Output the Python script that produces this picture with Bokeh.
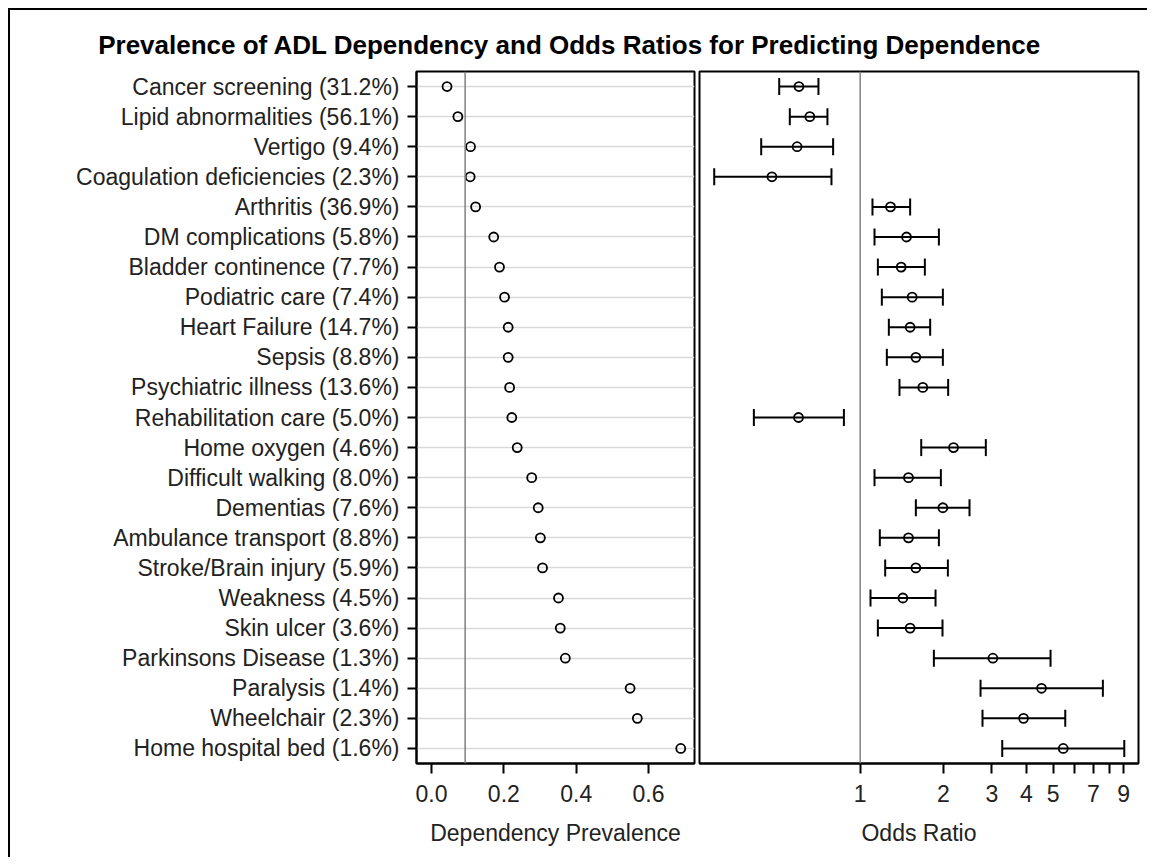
from bokeh.plotting import figure
from bokeh.models import (FactorRange, Range1d, FixedTicker, Span, Whisker, TeeHead,
                          ColumnDataSource, NumeralTickFormatter)
from bokeh.layouts import row, column
from bokeh.core.properties import value
from bokeh.embed import file_html
from bokeh.resources import INLINE

title_text = "Prevalence of ADL Dependency and Odds Ratios for Predicting Dependence"

categories = ["Cancer screening (31.2%)", "Lipid abnormalities (56.1%)", "Vertigo (9.4%)",
              "Coagulation deficiencies (2.3%)", "Arthritis (36.9%)", "DM complications (5.8%)",
              "Bladder continence (7.7%)", "Podiatric care (7.4%)", "Heart Failure (14.7%)",
              "Sepsis (8.8%)", "Psychiatric illness (13.6%)", "Rehabilitation care (5.0%)",
              "Home oxygen (4.6%)", "Difficult walking (8.0%)", "Dementias (7.6%)",
              "Ambulance transport (8.8%)", "Stroke/Brain injury (5.9%)", "Weakness (4.5%)",
              "Skin ulcer (3.6%)", "Parkinsons Disease (1.3%)", "Paralysis (1.4%)",
              "Wheelchair (2.3%)", "Home hospital bed (1.6%)"]

prevalence = [0.043, 0.073, 0.108, 0.107, 0.122, 0.172, 0.188, 0.202, 0.212, 0.212, 0.216, 0.222,
              0.237, 0.277, 0.295, 0.301, 0.307, 0.351, 0.356, 0.370, 0.549, 0.569, 0.689]

odds_ratio = [0.600, 0.657, 0.591, 0.479, 1.288, 1.472, 1.408, 1.543, 1.517, 1.591, 1.686, 0.598,
              2.178, 1.496, 1.993, 1.496, 1.591, 1.428, 1.517, 3.025, 4.538, 3.906, 5.44]
or_lower = [0.509, 0.556, 0.438, 0.296, 1.108, 1.127, 1.159, 1.198, 1.270, 1.249, 1.388, 0.412,
            1.664, 1.127, 1.591, 1.178, 1.232, 1.090, 1.159, 1.849, 2.729, 2.774, 3.27]
or_upper = [0.706, 0.761, 0.798, 0.787, 1.517, 1.928, 1.715, 1.993, 1.793, 1.993, 2.083, 0.873,
            2.852, 1.960, 2.489, 1.928, 2.078, 1.875, 1.987, 4.893, 7.57, 5.532, 9.05]

overall_prevalence = 0.093
null_odds = 1.0

prev_ticks = [0.0, 0.2, 0.4, 0.6]
or_ticks = [1, 2, 3, 4, 5, 6, 7, 8, 9]
or_tick_labels = {1: "1", 2: "2", 3: "3", 4: "4", 5: "5", 6: "", 7: "7", 8: "", 9: "9"}

FONT = "Liberation Sans"
FS = "23px"

src = ColumnDataSource(dict(cat=categories, prev=prevalence, odds=odds_ratio,
                            lo=or_lower, hi=or_upper))

yr = FactorRange(factors=list(reversed(categories)), range_padding=0)

# title strip
pt = figure(width=1137, height=50, x_range=Range1d(0, 1), y_range=Range1d(0, 1),
            toolbar_location=None, output_backend="svg", min_border=0)
pt.axis.visible = False
pt.grid.visible = False
pt.outline_line_color = None
pt.text(x=[0.492], y=[0.32], text=[title_text], text_font=value(FONT), text_font_size="26px",
        text_font_style="bold", text_align="center", text_baseline="middle", text_color="black")

# left panel
p1 = figure(width=686, height=797, y_range=yr, x_range=Range1d(-0.0414, 0.727),
            toolbar_location=None, output_backend="svg",
            min_border_left=406, min_border_right=2, min_border_top=11, min_border_bottom=94)
p1.scatter(x="prev", y="cat", source=src, marker="circle", size=9, fill_color=None,
           line_color="black", line_width=1.8)
p1.add_layout(Span(location=overall_prevalence, dimension="height", line_color="#808080",
                   line_width=1.5))
p1.xgrid.visible = False
p1.ygrid.grid_line_color = "#d9d9d9"
p1.ygrid.grid_line_width = 1.5
p1.outline_line_color = "black"
p1.outline_line_width = 2
p1.xaxis.ticker = FixedTicker(ticks=prev_ticks)
p1.xaxis.formatter = NumeralTickFormatter(format="0.0")
p1.xaxis.axis_label = "Dependency Prevalence"

# right panel
p2 = figure(width=450, height=797, y_range=yr, x_range=Range1d(0.2618, 10.19), x_axis_type="log",
            toolbar_location=None, output_backend="svg",
            min_border_left=3, min_border_right=8, min_border_top=11, min_border_bottom=94)
p2.add_layout(Span(location=null_odds, dimension="height", line_color="#808080", line_width=1.5))
p2.add_layout(Whisker(base="cat", lower="lo", upper="hi", dimension="width", source=src,
                      line_color="black", line_width=2,
                      upper_head=TeeHead(size=17, line_width=2, line_color="black"),
                      lower_head=TeeHead(size=17, line_width=2, line_color="black")))
p2.scatter(x="odds", y="cat", source=src, marker="circle", size=9, fill_color=None,
           line_color="black", line_width=1.8)
p2.grid.visible = False
p2.yaxis.visible = False
p2.outline_line_color = "black"
p2.outline_line_width = 2
p2.xaxis.ticker = FixedTicker(ticks=or_ticks)
p2.xaxis.major_label_overrides = or_tick_labels
p2.xaxis.axis_label = "Odds Ratio"

for p in (p1, p2):
    for ax in p.axis:
        ax.axis_line_color = "black"
        ax.axis_line_width = 2
        ax.major_tick_line_color = "black"
        ax.major_tick_line_width = 2
        ax.minor_tick_line_color = None
        ax.major_tick_in = 0
        ax.major_label_text_font = FONT
        ax.major_label_text_font_size = FS
        ax.major_label_text_color = "#222222"
        ax.axis_label_text_font = FONT
        ax.axis_label_text_font_size = FS
        ax.axis_label_text_font_style = "normal"
        ax.axis_label_text_color = "#222222"
    p.xaxis.major_tick_out = 10
    p.xaxis.major_label_standoff = 11
    p.xaxis.axis_label_standoff = 15

p1.yaxis.major_tick_out = 9
p1.yaxis.major_label_standoff = 8

layout = column(pt, row(p1, p2), styles={"border-left": "2px solid black",
                                          "border-top": "2px solid black",
                                          "margin-left": "8px", "margin-top": "8px"})

open("out.html", "w").write(file_html(layout, INLINE))
